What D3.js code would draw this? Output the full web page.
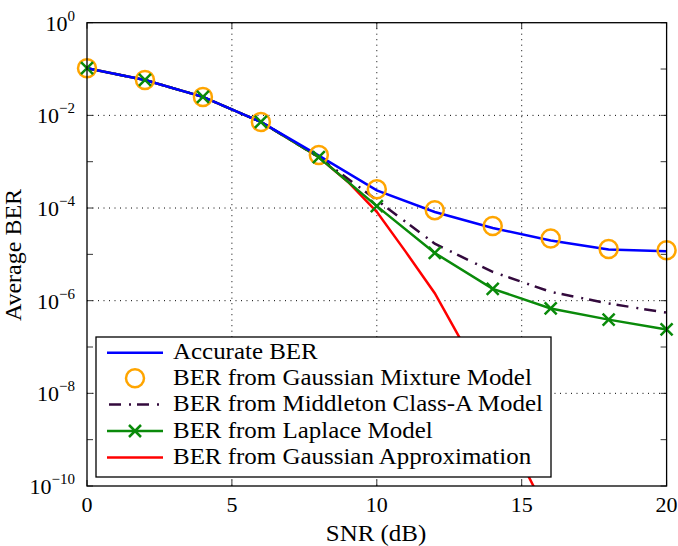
<!DOCTYPE html>
<html><head><meta charset="utf-8">
<script src="https://cdn.jsdelivr.net/npm/d3@7"></script>
</head><body style="margin:0">
<svg id="c" width="678" height="546"></svg>
<script>
const snrEven = [0,2,4,6,8,10,12,14,16,18,20];
const accurateBER = [0.104,0.058,0.025,0.0072,0.00135,0.00024,0.000082,0.000037,0.000020,0.0000128,0.0000117];
const gmmBER = [0.104,0.058,0.025,0.0072,0.0014,0.000255,0.00009,0.000041,0.000022,0.000013,0.0000123];
const middletonBER = [0.104,0.058,0.025,0.0072,0.00125,0.000148,0.000017,0.0000042,0.00000155,0.00000087,0.00000055];
const laplaceBER = [0.104,0.058,0.025,0.0072,0.00125,0.00011,0.0000107,0.0000018,0.00000068,0.00000039,0.00000024];
const snrGauss = [0,2,4,6,8,9,10,11,12,13,14,15,16];
const gaussBER = [0.104,0.058,0.025,0.0072,0.00125,0.00037,0.000083,0.0000113,0.00000145,0.00000011,0.000000007,0.00000000032,0.000000000018];
const xTicks = [0,5,10,15,20];
const yTickExps = [0,-2,-4,-6,-8,-10];
const legendLabels = ["Accurate BER","BER from Gaussian Mixture Model","BER from Middleton Class-A Model","BER from Laplace Model","BER from Gaussian Approximation"];

const svg = d3.select("#c");
const L=87, R=666.6, T=22.7, B=486;
const x = d3.scaleLinear().domain([0,20]).range([L,R]);
const y = d3.scaleLog().domain([1,1e-10]).range([T,B]);

const g = svg.append("g");
xTicks.slice(1,-1).forEach(v=>{
  g.append("line").attr("x1",x(v)).attr("x2",x(v)).attr("y1",T).attr("y2",B)
   .attr("stroke","#000").attr("stroke-width",1).attr("stroke-dasharray","1,4.5");
});
yTickExps.slice(1,-1).forEach(e=>{
  g.append("line").attr("x1",L).attr("x2",R).attr("y1",y(Math.pow(10,e))).attr("y2",y(Math.pow(10,e)))
   .attr("stroke","#000").attr("stroke-width",1).attr("stroke-dasharray","1,4.5");
});
const tk = svg.append("g").attr("stroke","#000").attr("stroke-width",0.8);
xTicks.forEach(v=>{
  tk.append("line").attr("x1",x(v)).attr("x2",x(v)).attr("y1",B).attr("y2",B-6);
  tk.append("line").attr("x1",x(v)).attr("x2",x(v)).attr("y1",T).attr("y2",T+6);
});
d3.range(0,-11,-1).forEach(e=>{
  const yy=y(Math.pow(10,e));
  tk.append("line").attr("x1",L).attr("x2",L+6).attr("y1",yy).attr("y2",yy);
  tk.append("line").attr("x1",R).attr("x2",R-6).attr("y1",yy).attr("y2",yy);
});

svg.append("clipPath").attr("id","pc").append("rect").attr("x",L).attr("y",T).attr("width",R-L).attr("height",B-T);
const plot = svg.append("g").attr("clip-path","url(#pc)");
const line = d3.line().x(d=>x(d[0])).y(d=>y(d[1]));
const zip=(a,b)=>a.map((v,i)=>[v,b[i]]);

plot.append("path").datum(zip(snrGauss,gaussBER)).attr("d",line).attr("fill","none").attr("stroke","#ff0000").attr("stroke-width",2.5);
plot.append("path").datum(zip(snrEven,middletonBER)).attr("d",line).attr("fill","none").attr("stroke","#330a3d").attr("stroke-width",2.5).attr("stroke-dasharray","12,8,2,6");
plot.append("path").datum(zip(snrEven,laplaceBER)).attr("d",line).attr("fill","none").attr("stroke","#0a8a0a").attr("stroke-width",2.5);
plot.append("path").datum(zip(snrEven,accurateBER)).attr("d",line).attr("fill","none").attr("stroke","#0000ff").attr("stroke-width",2.5);

function xMark(sel,cx,cy){
  const s=6;
  sel.append("path").attr("d",`M${cx-s},${cy-s}L${cx+s},${cy+s}M${cx-s},${cy+s}L${cx+s},${cy-s}`)
    .attr("stroke","#0a8a0a").attr("stroke-width",2.5).attr("fill","none");
}
const mk = svg.append("g");
zip(snrEven,gmmBER).forEach(d=>{
  mk.append("circle").attr("cx",x(d[0])).attr("cy",y(d[1])).attr("r",9).attr("fill","none").attr("stroke","#ffa500").attr("stroke-width",2.5);
});
zip(snrEven,laplaceBER).forEach(d=>xMark(mk,x(d[0]),y(d[1])));

svg.append("rect").attr("x",L).attr("y",T).attr("width",R-L).attr("height",B-T).attr("fill","none").attr("stroke","#000").attr("stroke-width",1.3);

function txt(sel,size){ return (sel||svg).append("text").attr("font-size",size).style("font-family",'"Liberation Serif"'); }
xTicks.forEach(v=>{
  txt(svg,22).attr("x",x(v)).attr("y",512).attr("text-anchor","middle").text(v);
});
yTickExps.forEach(e=>{
  const t=txt(svg,22).attr("x",75).attr("y",y(Math.pow(10,e))+8).attr("text-anchor","end");
  t.append("tspan").text("10");
  t.append("tspan").attr("dy",-10).attr("font-size",15).text(e===0?"0":"\u2212"+(-e));
});
txt(svg,23).attr("transform","translate(376,541) scale(1.085,1)").attr("text-anchor","middle").text("SNR (dB)");
txt(svg,24).attr("transform","translate(21,255) rotate(-90)").attr("text-anchor","middle").text("Average BER");

const lg = svg.append("g");
lg.append("rect").attr("x",96).attr("y",337).attr("width",455).attr("height",140).attr("fill","#fff").attr("stroke","#000").attr("stroke-width",1.3);
const ly = [352.7,378.3,404.5,431,457.5];
lg.append("line").attr("x1",107).attr("x2",163).attr("y1",ly[0]).attr("y2",ly[0]).attr("stroke","#0000ff").attr("stroke-width",2.5);
lg.append("circle").attr("cx",135).attr("cy",ly[1]).attr("r",9).attr("fill","none").attr("stroke","#ffa500").attr("stroke-width",2.5);
lg.append("line").attr("x1",107).attr("x2",163).attr("y1",ly[2]).attr("y2",ly[2]).attr("stroke","#330a3d").attr("stroke-width",2.5).attr("stroke-dasharray","12,8,2,6").attr("stroke-dashoffset",-2);
lg.append("line").attr("x1",107).attr("x2",163).attr("y1",ly[3]).attr("y2",ly[3]).attr("stroke","#0a8a0a").attr("stroke-width",2.5);
xMark(lg,135,ly[3]);
lg.append("line").attr("x1",107).attr("x2",163).attr("y1",ly[4]).attr("y2",ly[4]).attr("stroke","#ff0000").attr("stroke-width",2.5);
legendLabels.forEach((s,i)=>{
  txt(lg,23).attr("transform",`translate(173,${ly[i]+6.5}) scale(1.085,1)`).text(s);
});
</script>
</body></html>
